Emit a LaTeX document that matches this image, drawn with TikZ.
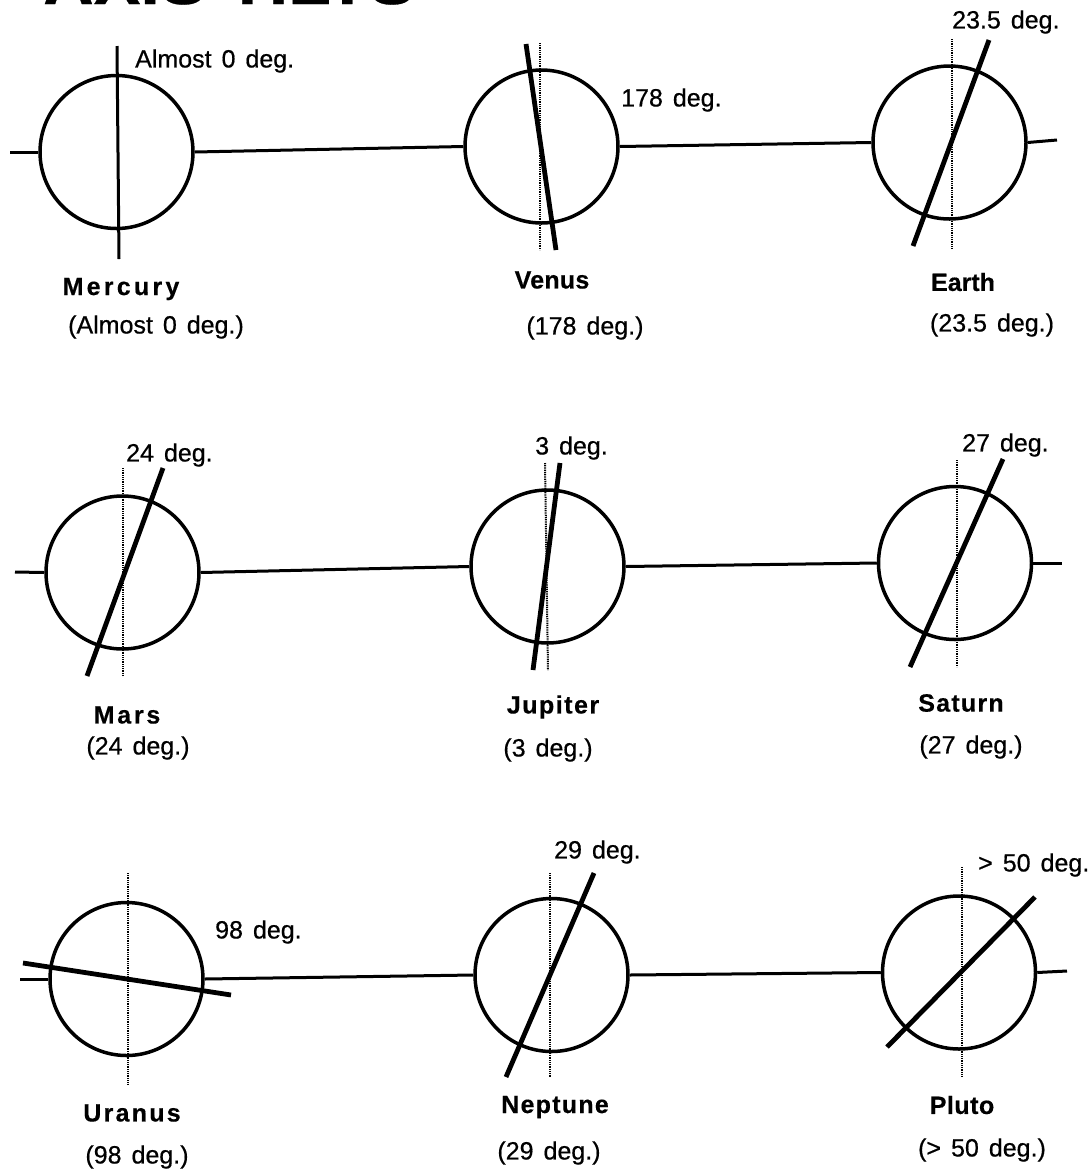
\documentclass[tikz,border=0pt]{standalone}
\usepackage{fontspec}
\setmainfont{Liberation Sans}[FakeBold=0.6, BoldFeatures={FakeBold=0.4}]
\newcommand\lblfont{\fontsize{25}{29}\selectfont\spaceskip=10pt\relax}
\newcommand\nmfont{\fontsize{25}{29}\selectfont\bfseries}
\newcommand\pn[2]{{\addfontfeatures{LetterSpace=#1}#2}}
\tikzset{
  planet/.style={circle, draw, line width=3.5pt, minimum size=153pt, inner sep=0pt},
  link/.style={line width=3pt},
  tilt/.style={line width=4.8pt},
  thinaxis/.style={line width=3pt},
  vert/.style={line width=2pt, dash pattern=on 1pt off 0.8pt},
  deg/.style={font=\lblfont, inner sep=0pt, anchor=west},
  pname/.style={font=\nmfont, inner sep=0pt},
  ptilt/.style={font=\lblfont, inner sep=0pt},
}
\begin{document}
\begin{tikzpicture}[x=1pt,y=-1pt]
\useasboundingbox (0,0) rectangle (1090,1171);
\clip (0,0) rectangle (1090,1171);
% title (cut off at the top edge)
\node[anchor=base west, inner sep=0pt, font=\fontsize{70}{80}\selectfont\bfseries] (title) at (43,4) {AXIS TILTS};

% planets
\node[planet] (mer) at (116.5,152) {};
\node[planet] (ven) at (541.5,146.5) {};
\node[planet] (ear) at (949.5,142.5) {};
\node[planet] (mar) at (122.5,572.5) {};
\node[planet] (jup) at (547.5,566.5) {};
\node[planet] (sat) at (955,563) {};
\node[planet] (ura) at (126.5,979) {};
\node[planet] (nep) at (551.5,975) {};
\node[planet] (plu) at (959,972.5) {};

% stub ends
\coordinate (s1) at (10,152);
\coordinate (s2) at (1057,140);
\coordinate (s3) at (15,572);
\coordinate (s4) at (1062,563);
\coordinate (s5) at (20,979);
\coordinate (s6) at (1067,971);

% connectors
\draw[link] (s1) -- (mer.west);
\draw[link] (mer.east) -- (ven.west);
\draw[link] (ven.east) -- (ear.west);
\draw[link] (ear.east) -- (s2);
\draw[link] (s3) -- (mar.west);
\draw[link] (mar.east) -- (jup.west);
\draw[link] (jup.east) -- (sat.west);
\draw[link] (sat.east) -- (s4);
\draw[link] (s5) -- (ura.west);
\draw[link] (ura.east) -- (nep.west);
\draw[link] (nep.east) -- (plu.west);
\draw[link] (plu.east) -- (s6);

% vertical references
\draw[vert] (540,43) -- (540,250);
\draw[vert] (952,39) -- (952,248);
\draw[vert] (123,468) -- (123,676);
\draw[vert] (545,463) -- (548,670);
\draw[vert] (957,460) -- (957,667);
\draw[vert] (128,873) -- (128,1085);
\draw[vert] (550,873) -- (550,1077);
\draw[vert] (962,867) -- (962,1077);

% tilted axes
\draw[thinaxis] (117,46) -- (119,259);
\draw[tilt] (526,44) -- (556,250);
\draw[tilt] (989,40) -- (913,246);
\draw[tilt] (163,468) -- (87,676);
\draw[tilt] (560,463) -- (533,670);
\draw[tilt] (1003,459) -- (910,667);
\draw[tilt] (23,963) -- (231,995);
\draw[tilt] (594,873) -- (506,1077);
\draw[tilt] (1035,897) -- (887,1047);

% angle labels
\node[deg] (lmer) at (135,61) {Almost 0 deg.};
\node[deg] (lven) at (621,100) {178 deg.};
\node[deg] (lear) at (952,22) {23.5 deg.};
\node[deg] (lmar) at (126,455) {24 deg.};
\node[deg] (ljup) at (535,448) {3 deg.};
\node[deg] (lsat) at (962,445) {27 deg.};
\node[deg] (lura) at (215,932) {98 deg.};
\node[deg] (lnep) at (554,852) {29 deg.};
\node[deg] (lplu) at (978,865) {> 50 deg.};

% names
\node[pname] (nmer) at (121,289) {\pn{13}{Mercury}};
\node[pname] (nven) at (552,280) {\pn{1}{Venus}};
\node[pname] (near) at (963,282) {\pn{0}{Earth}};
\node[pname] (nmar) at (127,715) {\pn{11}{Mars}};
\node[pname] (njup) at (553,707) {\pn{6}{Jupiter}};
\node[pname] (nsat) at (961,703) {\pn{5}{Saturn}};
\node[pname] (nura) at (132,1113) {\pn{9}{Uranus}};
\node[pname] (nnep) at (555,1107) {\pn{5}{Neptune}};
\node[pname] (nplu) at (962,1105) {\pn{2}{Pluto}};

% tilt values under names
\node[ptilt] (tmer) at (156,327) {(Almost 0 deg.)};
\node[ptilt] (tven) at (585,328) {(178 deg.)};
\node[ptilt] (tear) at (992,325) {(23.5 deg.)};
\node[ptilt] (tmar) at (138,748) {(24 deg.)};
\node[ptilt] (tjup) at (548,750) {(3 deg.)};
\node[ptilt] (tsat) at (971,747) {(27 deg.)};
\node[ptilt] (tura) at (137,1157) {(98 deg.)};
\node[ptilt] (tnep) at (549,1153) {(29 deg.)};
\node[ptilt] (tplu) at (982,1150) {(> 50 deg.)};
\end{tikzpicture}
\end{document}
